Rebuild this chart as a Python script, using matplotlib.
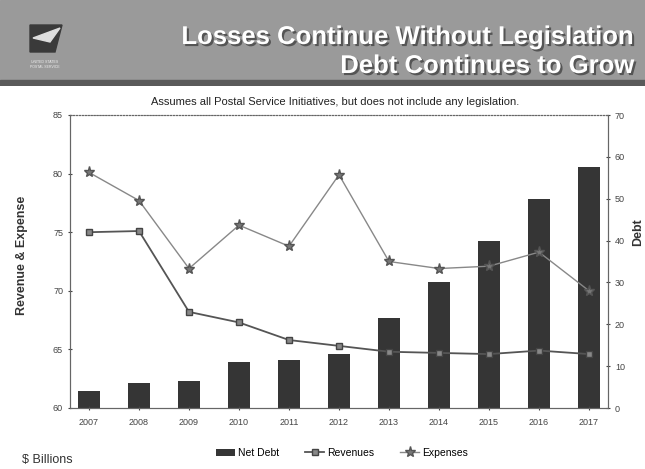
import numpy as np
import matplotlib.pyplot as plt
import matplotlib.patheffects as pe
from matplotlib.patches import Rectangle, Polygon

years = ['2007', '2008', '2009', '2010', '2011', '2012', '2013', '2014', '2015', '2016', '2017']
net_debt = [4, 6, 6.5, 11, 11.5, 13, 21.5, 30, 40, 50, 57.5]
revenues = [75.0, 75.1, 68.2, 67.3, 65.8, 65.3, 64.8, 64.7, 64.6, 64.9, 64.6]
expenses = [80.1, 77.7, 71.9, 75.6, 73.8, 79.9, 72.5, 71.9, 72.1, 73.3, 70.0]

plt.rcParams['font.family'] = ['Liberation Sans', 'DejaVu Sans']

fig = plt.figure(figsize=(6.45, 4.69), dpi=100)

# header banner
hdr = fig.add_axes([0, 1 - 86 / 469, 1, 86 / 469])
hdr.set_xlim(0, 645)
hdr.set_ylim(86, 0)
hdr.axis('off')
hdr.add_patch(Rectangle((0, 0), 645, 80, color='#9a9a9a'))
hdr.add_patch(Rectangle((0, 80), 645, 6, color='#5a5a5a'))
# simple eagle-ish logo
hdr.add_patch(Polygon([[30, 25], [62, 25], [55, 52], [30, 52]], closed=True, color='#3a3a3a'))
hdr.add_patch(Polygon([[33, 38], [60, 28], [50, 42]], closed=True, color='#dddddd'))
hdr.text(45, 60, 'UNITED STATES\nPOSTAL SERVICE', fontsize=2.5, color='#eeeeee',
         ha='center', va='top')
shadow = [pe.withSimplePatchShadow(offset=(1.5, -1.5), shadow_rgbFace='#555555', alpha=1.0)]
hdr.text(635, 37, 'Losses Continue Without Legislation', fontsize=18.5,
         fontweight='bold', color='white', ha='right', va='center', path_effects=shadow)
hdr.text(635, 66, 'Debt Continues to Grow', fontsize=18.5,
         fontweight='bold', color='white', ha='right', va='center', path_effects=shadow)

fig.text(335 / 645, 1 - 102 / 469,
         'Assumes all Postal Service Initiatives, but does not include any legislation.',
         fontsize=8, ha='center', va='center', color='#222222')

ax = fig.add_axes([70 / 645, 1 - 408 / 469, 538 / 645, 293 / 469])
ax2 = ax.twinx()
x = np.arange(len(years))

bars = ax2.bar(x, net_debt, width=0.45, color='#353535', zorder=1, label='Net Debt')
ax2.set_ylim(0, 70)
ax2.set_yticks(range(0, 71, 10))

ax.set_zorder(ax2.get_zorder() + 1)
ax.patch.set_visible(False)
l1, = ax.plot(x, revenues, color='#555555', lw=1.3, marker='s', ms=5,
              mfc='#888888', mec='#444444', label='Revenues')
l2, = ax.plot(x, expenses, color='#888888', lw=1.0, marker='*', ms=8,
              mfc='#777777', mec='#555555', label='Expenses')
ax.set_ylim(60, 85)
ax.set_yticks(range(60, 86, 5))
ax.set_xlim(-0.38, len(years) - 0.62)
ax.set_xticks(x)
ax.set_xticklabels(years)

for a in (ax, ax2):
    a.tick_params(labelsize=6.5, colors='#444444', length=3, direction='inout')
    for s in a.spines.values():
        s.set_color('#666666')
        s.set_linewidth(0.8)
ax.tick_params(axis='x', pad=6)
ax.spines['top'].set_linestyle(':')
ax2.spines['top'].set_linestyle(':')

ax.set_ylabel('Revenue & Expense', fontsize=9, fontweight='bold', color='#333333')
ax.yaxis.set_label_coords(-0.078, 0.52)
ax2.set_ylabel('Debt', fontsize=9, fontweight='bold', color='#333333')
ax2.yaxis.set_label_coords(1.045, 0.6)

fig.legend([bars, l1, l2], ['Net Debt', 'Revenues', 'Expenses'], loc='center',
           bbox_to_anchor=(342 / 645, 1 - 453 / 469), ncol=3, frameon=False,
           fontsize=7.5, handlelength=1.8, columnspacing=2.5, handletextpad=0.3)

fig.text(22 / 645, 1 - 460 / 469, '$ Billions', fontsize=9, ha='left', va='center',
         color='#333333')

fig.savefig('out.png', dpi=100)
